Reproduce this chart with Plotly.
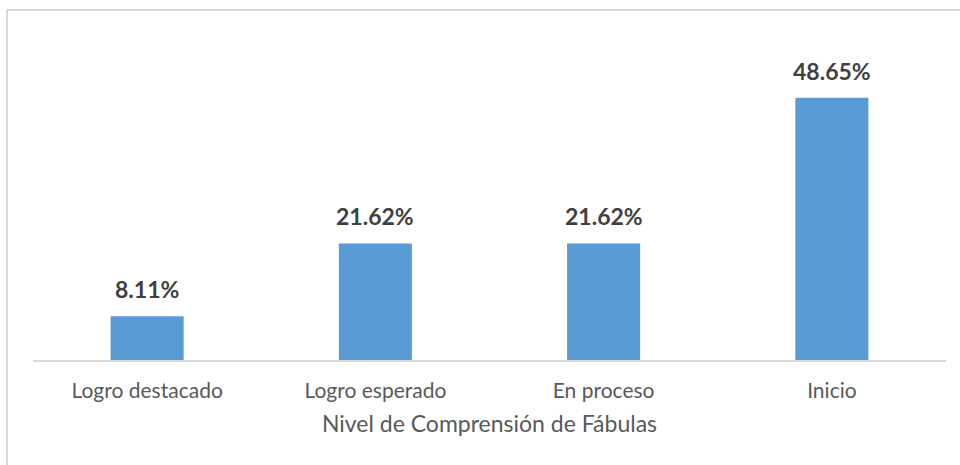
import plotly.graph_objects as go

categories = ["Logro destacado", "Logro esperado", "En proceso", "Inicio"]
values = [8.11, 21.62, 21.62, 48.65]
value_labels = ["8.11%", "21.62%", "21.62%", "48.65%"]
axis_title = "Nivel de Comprensión de Fábulas"

FONT = "Lato, 'Open Sans', sans-serif"

fig = go.Figure()
fig.add_trace(go.Bar(
    x=categories, y=values,
    marker=dict(color="#5B9BD5", line=dict(width=0)),
    width=0.32,
    hoverinfo="skip",
))

for c, v, t in zip(categories, values, value_labels):
    fig.add_annotation(x=c, y=v, text="<b>%s</b>" % t, showarrow=False,
                       yanchor="bottom", yshift=11,
                       font=dict(family=FONT, size=23, color="#404040"))

L, R, T, B = 33, 960 - 946, 24, 465 - 360
fig.update_layout(
    width=960, height=465,
    margin=dict(l=L, r=R, t=T, b=B, pad=0),
    paper_bgcolor="white", plot_bgcolor="white",
    showlegend=False,
    xaxis=dict(
        showline=True, linecolor="#d9d9d9", linewidth=2,
        showgrid=False, zeroline=False,
        ticks="outside", ticklen=11, tickcolor="rgba(0,0,0,0)",
        tickfont=dict(family=FONT, size=21, color="#595959"),
        title=dict(text=axis_title, standoff=15,
                   font=dict(family=FONT, size=23, color="#595959")),
        automargin=False,
        fixedrange=True,
    ),
    yaxis=dict(range=[0, 62.34], visible=False, fixedrange=True),
)

pw = 946 - 33
ph = 360 - 24
def px(x):
    return (x - 33) / pw
def py(y):
    return (360 - y) / ph

fig.add_shape(type="rect", xref="paper", yref="paper",
              x0=px(7), x1=px(975), y0=py(480), y1=py(10),
              line=dict(color="#d9d9d9", width=2), fillcolor="rgba(0,0,0,0)",
              layer="below")

fig.write_html("out.html", config={"displayModeBar": False},
               post_script="document.body.style.margin='0';")
